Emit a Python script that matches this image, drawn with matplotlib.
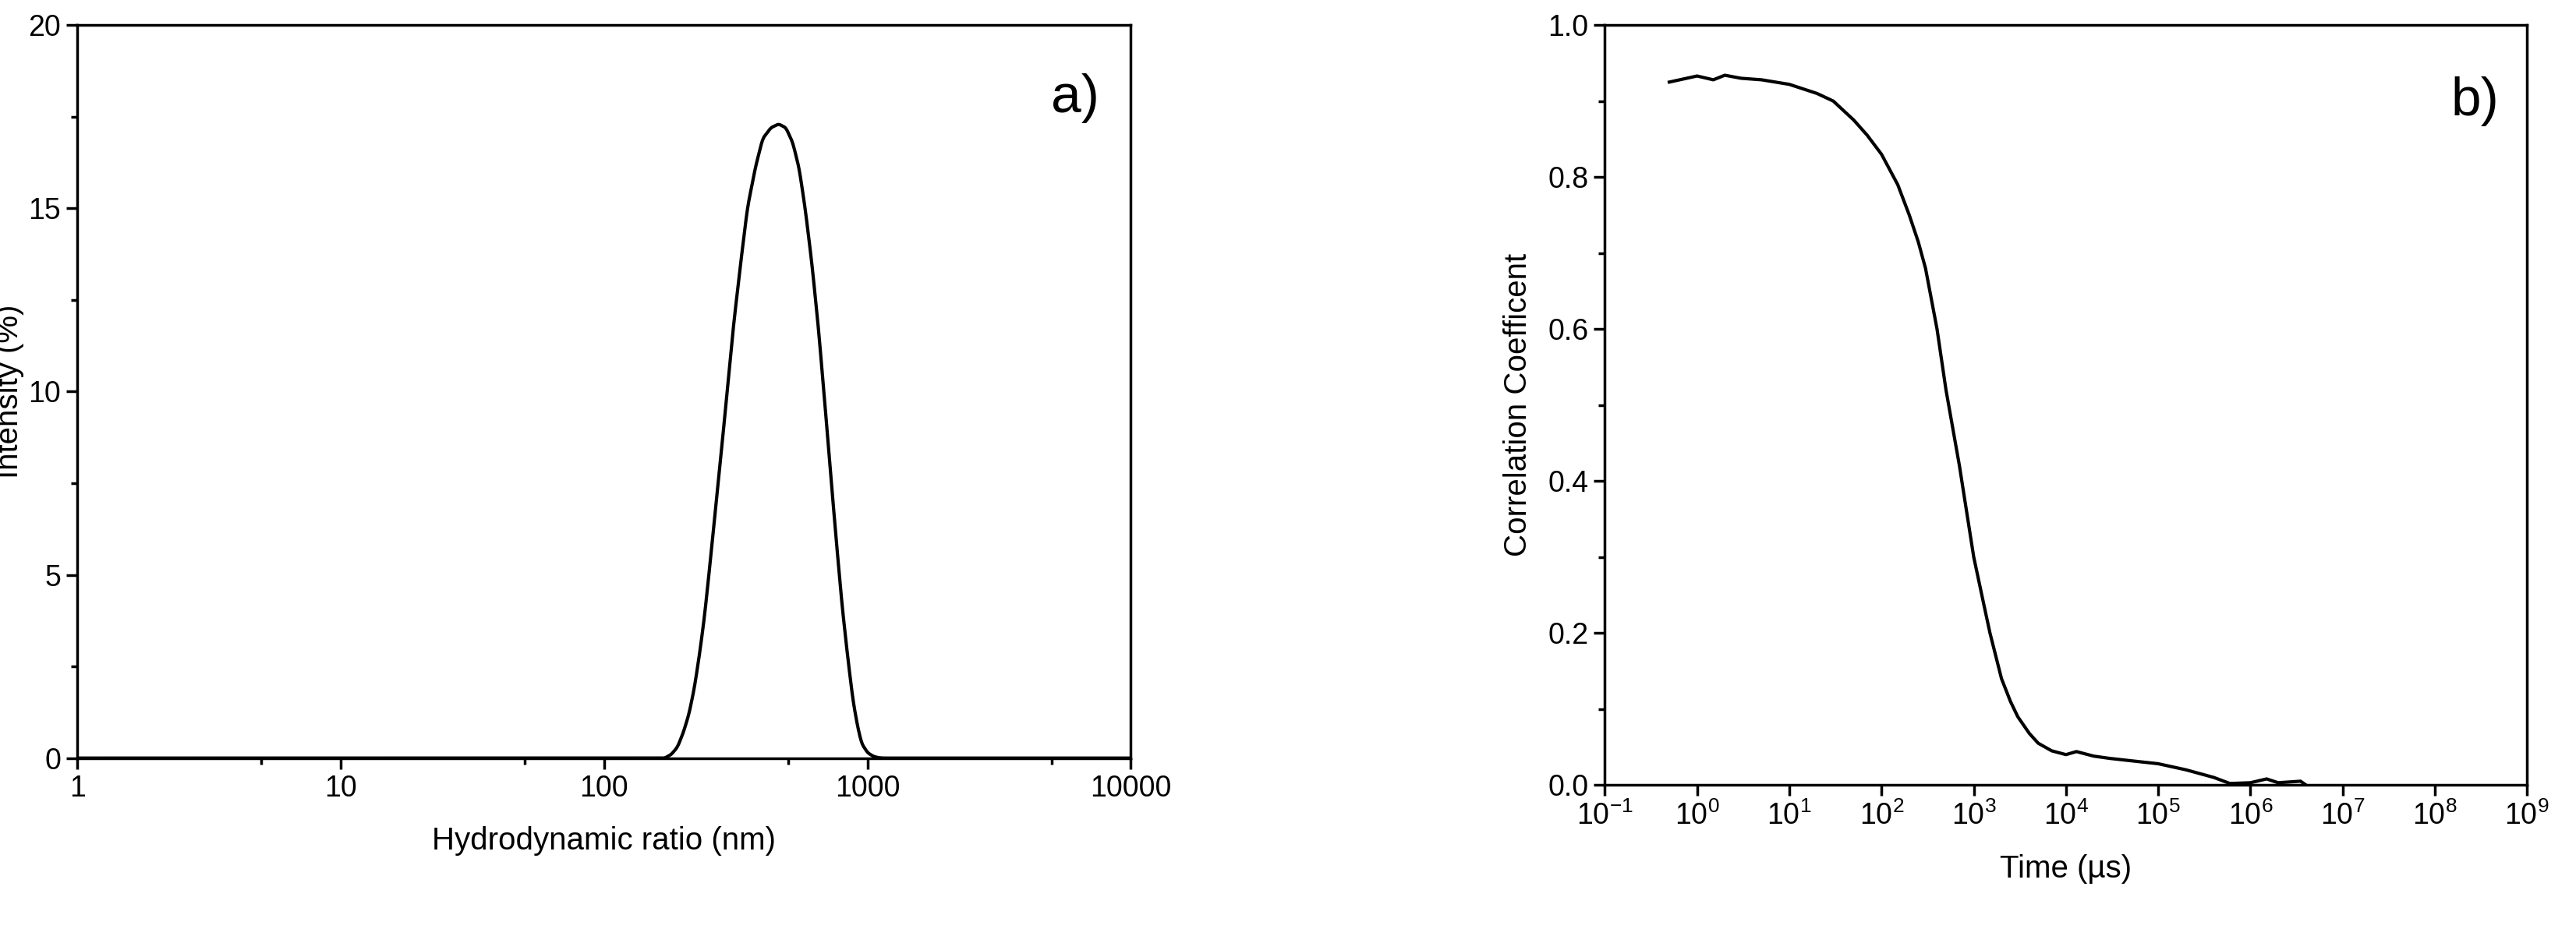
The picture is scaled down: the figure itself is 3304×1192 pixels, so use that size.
import matplotlib.pyplot as plt
import numpy as np
from matplotlib.ticker import FixedLocator, LogFormatterMathtext, FormatStrFormatter, MultipleLocator

plt.rcParams['font.family'] = ['Liberation Sans', 'DejaVu Sans']
plt.rcParams['mathtext.fontset'] = 'custom'
plt.rcParams['mathtext.rm'] = 'Liberation Sans'

# panel a: size distribution
size_nm = [1, 150, 170, 180, 190, 200, 210, 220, 230, 240, 250, 265, 280, 295, 310, 330,
           350, 375, 400, 430, 460, 490, 520, 550, 580, 615, 650, 685, 720, 760, 800,
           840, 880, 915, 950, 1000, 1050, 1100, 1150, 10000]
intensity = [0, 0, 0, 0.1, 0.3, 0.7, 1.2, 1.9, 2.8, 3.8, 5.0, 6.8, 8.5, 10.2, 11.8, 13.5,
             15.0, 16.1, 16.9, 17.2, 17.3, 17.2, 16.8, 16.1, 15.0, 13.5, 11.8, 9.9, 8.0,
             6.0, 4.2, 2.8, 1.6, 0.9, 0.4, 0.15, 0.05, 0.01, 0, 0]

# panel b: correlation function
time_us = [0.5, 1, 1.5, 2, 3, 5, 10, 20, 30, 50, 70, 100, 150, 200, 250, 300, 400, 500,
           700, 1000, 1300, 1500, 2000, 2500, 3000, 4000, 5000, 7000, 1e4, 1.3e4, 2e4,
           3e4, 5e4, 1e5, 2e5, 4e5, 6e5, 1e6, 1.5e6, 2e6, 3.5e6, 4e6]
corr = [0.925, 0.933, 0.928, 0.934, 0.93, 0.928, 0.922, 0.91, 0.9, 0.875, 0.855, 0.83,
        0.79, 0.75, 0.715, 0.68, 0.60, 0.52, 0.42, 0.30, 0.235, 0.20, 0.14, 0.11, 0.09,
        0.068, 0.055, 0.045, 0.04, 0.044, 0.038, 0.035, 0.032, 0.028, 0.02, 0.01,
        0.002, 0.003, 0.008, 0.003, 0.005, 0.0]

fig = plt.figure(figsize=(33.04, 11.92), dpi=100)
ax1 = fig.add_axes([0.030, 0.184, 0.409, 0.789])
ax2 = fig.add_axes([0.623, 0.155, 0.358, 0.818])

# resample the read-off points on a fine log grid so the peak draws smoothly
xs = np.logspace(0, 4, 4000)
ys = np.interp(np.log10(xs), np.log10(size_nm), intensity)
ys = np.convolve(ys, np.ones(15) / 15, mode='same')
ax1.plot(xs, ys, color='black', lw=3)
ax1.set_xscale('log')
ax1.set_xlim(1, 10000)
ax1.set_ylim(0, 20)
ax1.xaxis.set_major_locator(FixedLocator([1, 10, 100, 1000, 10000]))
ax1.xaxis.set_minor_locator(FixedLocator([5, 50, 500, 5000]))
ax1.xaxis.set_major_formatter(FormatStrFormatter('%d'))
ax1.xaxis.set_minor_formatter(plt.NullFormatter())
ax1.yaxis.set_major_locator(MultipleLocator(5))
ax1.yaxis.set_minor_locator(MultipleLocator(2.5))
ax1.set_xlabel('Hydrodynamic ratio (nm)', fontsize=29, labelpad=22)
ax1.set_ylabel('Intensity (%)', fontsize=29, labelpad=4)
ax1.text(0.97, 0.9, 'a)', transform=ax1.transAxes, fontsize=50, ha='right', va='center')

ax2.plot(time_us, corr, color='black', lw=3)
ax2.set_xscale('log')
ax2.set_xlim(0.1, 1e9)
ax2.set_ylim(0, 1.0)
ax2.xaxis.set_major_locator(FixedLocator([10.0**k for k in range(-1, 10)]))
ax2.xaxis.set_minor_locator(plt.NullLocator())
ax2.xaxis.set_major_formatter(LogFormatterMathtext())
ax2.yaxis.set_major_locator(MultipleLocator(0.2))
ax2.yaxis.set_minor_locator(MultipleLocator(0.1))
ax2.yaxis.set_major_formatter(FormatStrFormatter('%.1f'))
ax2.set_xlabel('Time (\u00b5s)', fontsize=29, labelpad=22)
ax2.set_ylabel('Correlation Coefficent', fontsize=29, labelpad=14)
ax2.text(0.97, 0.9, 'b)', transform=ax2.transAxes, fontsize=50, ha='right', va='center')

for ax in (ax1, ax2):
    for s in ax.spines.values():
        s.set_linewidth(2.5)
    ax.tick_params(which='both', direction='out', width=2.5, labelsize=27, top=False, right=False)
    ax.tick_params(which='major', length=10, pad=5)
    ax.tick_params(which='minor', length=6)

fig.savefig('out.png', dpi=100)
